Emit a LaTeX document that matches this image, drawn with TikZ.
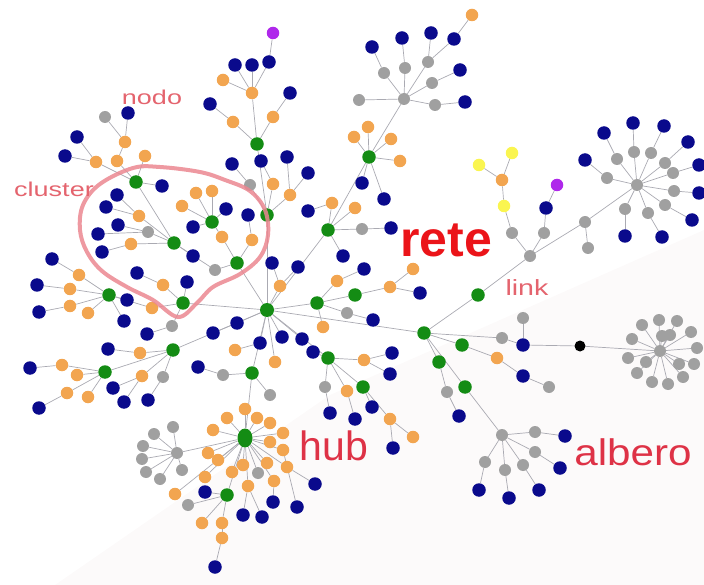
\documentclass[tikz,border=0pt]{standalone}
\usepackage{fontspec}
\setmainfont{Liberation Sans}
\usetikzlibrary{shapes.geometric}
\pgfdeclarelayer{back}
\pgfdeclarelayer{bg}
\pgfsetlayers{back,bg,main}
\definecolor{cb}{RGB}{10,10,140}
\definecolor{co}{RGB}{242,165,80}
\definecolor{cg}{RGB}{20,140,20}
\definecolor{cy}{RGB}{160,160,160}
\definecolor{cp}{RGB}{175,40,235}
\definecolor{cyl}{RGB}{250,245,80}
\definecolor{ce}{RGB}{170,170,178}
\definecolor{tpink}{RGB}{228,100,110}
\definecolor{tred}{RGB}{222,50,70}
\definecolor{tbold}{RGB}{235,20,25}
\definecolor{clu}{RGB}{235,135,145}
\definecolor{bgtri}{RGB}{252,250,250}
\tikzset{
 nd/.style={circle,inner sep=0pt,minimum size=12.5pt},
 bnode/.style={nd,fill=cb,minimum size=13.5pt},
 onode/.style={nd,fill=co},
 gnode/.style={nd,fill=cg,minimum size=13.5pt},
 ynode/.style={nd,fill=cy,minimum size=12pt},
 pnode/.style={nd,fill=cp},
 lnode/.style={nd,fill=cyl},
 knode/.style={nd,fill=black,minimum size=11pt},
 edge/.style={draw=ce,line width=0.7pt},
 lbl/.style={anchor=base,inner sep=0pt},
}
\def\Nd#1#2#3#4{\node[#2] (#1) at (#3,#4) {};}
\begin{document}
\begin{tikzpicture}[x=1pt,y=-1pt]
\useasboundingbox (0,0) rectangle (704,585);
\begin{pgfonlayer}{back}
\fill[bgtri] (55,585) -- (330,395) -- (704,230) -- (704,585) -- cycle;
\end{pgfonlayer}
% center
\Nd{c0}{gnode,minimum size=14pt}{267}{310}
% top tree
\Nd{gT}{gnode}{257}{144}
\Nd{a1}{onode}{233}{122}\Nd{a2}{bnode}{210}{104}
\Nd{a3}{onode}{273}{117}\Nd{a4}{bnode}{290}{93}
\Nd{a5}{onode}{252}{93}\Nd{a6}{bnode}{235}{65}\Nd{a7}{bnode}{252}{65}
\Nd{a8}{bnode}{269}{62}\Nd{a9}{onode}{223}{80}\Nd{a10}{pnode}{273}{33}
\Nd{gU}{gnode}{267}{215}
\Nd{a11}{bnode}{232}{164}\Nd{a12}{bnode}{261}{161}\Nd{a13}{bnode}{287}{157}
\Nd{a14}{bnode}{308}{173}\Nd{a15}{onode}{273}{184}\Nd{a16}{onode}{290}{195}
\Nd{a17}{ynode}{250}{185}
% upper right
\Nd{gR1}{gnode}{328}{230}
\Nd{b1}{onode}{332}{203}\Nd{b2}{bnode}{308}{211}\Nd{b3}{onode}{355}{208}
\Nd{b4}{ynode}{362}{229}\Nd{b5}{bnode}{391}{228}\Nd{b6}{bnode}{343}{256}
\Nd{gR2}{gnode}{369}{157}
\Nd{b7}{onode}{368}{127}\Nd{b8}{onode}{354}{137}\Nd{b9}{onode}{391}{139}
\Nd{b10}{onode}{400}{161}\Nd{b11}{bnode}{362}{183}\Nd{b12}{bnode}{384}{199}
\Nd{G1}{ynode}{404}{99}
\Nd{b13}{ynode}{384}{73}\Nd{b14}{bnode}{372}{47}\Nd{b15}{ynode}{405}{68}
\Nd{b16}{bnode}{402}{38}\Nd{b17}{ynode}{428}{62}\Nd{b18}{bnode}{431}{33}
\Nd{b19}{bnode}{454}{39}\Nd{b20}{onode}{472}{15}\Nd{b21}{ynode}{432}{83}
\Nd{b22}{bnode}{460}{70}\Nd{b23}{ynode}{435}{105}\Nd{b24}{bnode}{465}{102}
\Nd{b25}{ynode}{359}{100}
% right of center
\Nd{gR}{gnode}{317}{303}
\Nd{c1}{onode}{337}{281}\Nd{c2}{bnode}{364}{269}\Nd{c3}{bnode}{298}{267}
\Nd{gR3}{gnode}{355}{295}
\Nd{c4}{onode}{390}{287}\Nd{c5}{onode}{413}{269}\Nd{c6}{bnode}{420}{293}
\Nd{c7}{ynode}{347}{313}\Nd{c8}{bnode}{373}{320}\Nd{c9}{onode}{323}{327}
\Nd{c10}{onode}{280}{286}\Nd{c11}{bnode}{272}{263}
% lower right of center
\Nd{d0}{gnode}{328}{358}
\Nd{d1}{bnode}{302}{339}\Nd{d2}{bnode}{313}{352}\Nd{d3}{bnode}{282}{337}
\Nd{d4}{bnode}{260}{343}\Nd{d5}{bnode}{237}{323}\Nd{d6}{bnode}{213}{333}
\Nd{d7}{onode}{235}{350}\Nd{d8}{onode}{275}{362}
\Nd{d9}{onode}{364}{360}\Nd{d10}{bnode}{392}{353}\Nd{d11}{bnode}{390}{374}
\Nd{d12}{ynode}{325}{387}\Nd{d13}{bnode}{330}{413}\Nd{d14}{onode}{347}{391}
\Nd{d15}{bnode}{355}{419}\Nd{d16}{gnode}{363}{387}\Nd{d17}{bnode}{372}{407}
\Nd{d18}{onode}{390}{419}\Nd{d19}{onode}{413}{437}\Nd{d20}{bnode}{393}{448}
% far right
\Nd{e0}{gnode}{424}{333}
\Nd{e1}{gnode}{478}{295}
\Nd{J}{ynode}{530}{256}
\Nd{e2}{ynode}{512}{233}\Nd{e3}{lnode}{504}{206}\Nd{e4}{onode}{502}{180}
\Nd{e5}{lnode}{479}{165}\Nd{e6}{lnode}{512}{153}
\Nd{e7}{ynode}{544}{233}\Nd{e8}{bnode}{546}{208}\Nd{e9}{pnode}{557}{185}
\Nd{e10}{ynode}{585}{222}\Nd{e11}{ynode}{588}{248}
\Nd{S1}{ynode}{637}{185}
\foreach \x/\y [count=\i] in {607/178,617/159,634/152,651/153,665/163,673/173,674/191,665/205,648/213,625/209}
  \node[ynode] (si\i) at (\x,\y) {};
\foreach \x/\y [count=\i] in {585/160,604/133,633/123,664/126,688/142,699/165,699/193,692/220,662/237,625/236}
  \node[bnode] (so\i) at (\x,\y) {};
\Nd{e12}{ynode}{502}{338}\Nd{e13}{ynode}{523}{318}\Nd{e14}{bnode}{523}{345}
\Nd{K}{knode}{580}{346}
\Nd{S2}{ynode}{660}{351}
\foreach \x/\y [count=\i] in {632/339,642/325,659/320,677/321,691/332,697/348,694/364,683/377,668/384,652/382,637/373,628/358,670/335,679/364,646/362,662/336}
  \node[ynode] (sl\i) at (\x,\y) {};
\Nd{e15}{gnode}{462}{345}\Nd{e16}{onode}{497}{358}\Nd{e17}{bnode}{523}{376}
\Nd{e18}{ynode}{549}{387}
\Nd{e19}{gnode}{439}{362}\Nd{e20}{ynode}{447}{392}\Nd{e21}{bnode}{459}{416}
\Nd{e22}{gnode}{465}{387}
\Nd{A}{ynode}{502}{435}
\Nd{f1}{ynode}{535}{432}\Nd{f2}{bnode}{565}{436}
\Nd{f3}{ynode}{535}{452}\Nd{f4}{bnode}{560}{468}
\Nd{f5}{ynode}{485}{462}\Nd{f6}{bnode}{479}{490}
\Nd{f7}{ynode}{505}{470}\Nd{f8}{bnode}{509}{498}
\Nd{f9}{ynode}{523}{465}\Nd{f10}{bnode}{539}{490}
% hub below
\Nd{gD}{gnode}{252}{373}
\Nd{h1}{ynode}{223}{375}\Nd{h2}{bnode}{198}{367}\Nd{h3}{ynode}{270}{395}
\foreach \x/\y [count=\i] in {227/418,245/409,257/418,270/423,283/433,270/442,283/450,287/467,267/463,274/481,248/486,243/465,232/472,218/460,208/453,213/430,205/477,175/494}
  \node[onode] (r\i) at (\x,\y) {};
\Nd{r19}{ynode}{258}{473}
\Nd{B}{gnode,minimum width=15pt,minimum height=19pt,ellipse}{245}{438}
\Nd{q1}{bnode}{315}{484}\Nd{q2}{bnode}{273}{502}\Nd{q3}{bnode}{297}{507}
\Nd{q4}{bnode}{243}{515}\Nd{q5}{bnode}{262}{517}
\Nd{gB2}{gnode}{227}{495}
\Nd{q6}{bnode}{205}{492}\Nd{q7}{onode}{202}{523}\Nd{q8}{onode}{222}{523}
\Nd{q9}{onode}{222}{538}\Nd{q10}{bnode}{215}{567}\Nd{q11}{ynode}{188}{505}
\Nd{LS}{ynode}{177}{453}
\foreach \x/\y [count=\i] in {173/427,154/434,143/446,142/459,146/472,160/479,182/470}
  \node[ynode] (ls\i) at (\x,\y) {};
% left
\Nd{gL}{gnode}{183}{303}
\Nd{l1}{onode}{152}{308}\Nd{gL2}{gnode}{109}{295}
\Nd{l2}{bnode}{127}{300}\Nd{l3}{bnode}{124}{321}\Nd{l4}{onode}{79}{275}
\Nd{l5}{bnode}{52}{259}\Nd{l6}{onode}{70}{289}\Nd{l7}{bnode}{37}{285}
\Nd{l8}{onode}{70}{306}\Nd{l9}{bnode}{39}{312}\Nd{l10}{onode}{88}{313}
\Nd{l11}{bnode}{187}{282}\Nd{l12}{onode}{163}{285}\Nd{l13}{bnode}{137}{273}
\Nd{l14}{ynode}{172}{326}\Nd{l15}{bnode}{147}{334}
\Nd{gLL}{gnode}{173}{350}
\Nd{m1}{onode}{140}{353}\Nd{m2}{bnode}{108}{349}\Nd{m3}{gnode}{105}{372}
\Nd{m4}{onode}{62}{365}\Nd{m5}{bnode}{30}{368}\Nd{m6}{onode}{77}{375}
\Nd{m7}{onode}{67}{393}\Nd{m8}{bnode}{39}{408}\Nd{m9}{onode}{88}{397}
\Nd{m10}{bnode}{113}{388}\Nd{m11}{bnode}{124}{402}\Nd{m12}{onode}{142}{376}
\Nd{m13}{ynode}{163}{377}\Nd{m14}{bnode}{148}{400}
% cluster
\Nd{gC}{gnode}{237}{263}
\Nd{k1}{ynode}{215}{270}\Nd{k2}{bnode}{193}{256}\Nd{k3}{onode}{252}{240}
\Nd{k4}{onode}{222}{237}\Nd{gC2}{gnode}{212}{222}
\Nd{k5}{onode}{182}{206}\Nd{k6}{onode}{196}{193}\Nd{k7}{onode}{212}{191}
\Nd{k8}{bnode}{226}{209}\Nd{k9}{bnode}{193}{227}
\Nd{gC3}{gnode}{174}{243}
\Nd{k11}{ynode}{148}{232}\Nd{k12}{bnode}{118}{225}\Nd{k13}{bnode}{98}{234}
\Nd{k14}{onode}{131}{244}\Nd{k15}{bnode}{102}{252}\Nd{k16}{onode}{139}{216}
\Nd{k17}{bnode}{117}{195}\Nd{k18}{bnode}{106}{207}
\Nd{gC4}{gnode}{136}{182}
\Nd{k19}{onode}{117}{161}\Nd{k20}{onode}{125}{142}\Nd{k21}{ynode}{105}{117}
\Nd{k22}{bnode}{128}{113}\Nd{k23}{onode}{96}{162}\Nd{k24}{bnode}{77}{137}
\Nd{k25}{bnode}{65}{156}\Nd{k26}{onode}{145}{156}\Nd{k27}{bnode}{162}{186}
\Nd{k28}{bnode}{248}{215}
% edges
\begin{pgfonlayer}{bg}
\foreach \a/\b in {c0/gU,gU/gT,gT/a1,a1/a2,gT/a3,a3/a4,gT/a5,a5/a6,a5/a7,a5/a8,a5/a9,a8/a10,
 gU/a15,a15/a12,gU/a16,a16/a13,a16/a14,gU/a17,a17/a11,
 c0/gR1,gR1/b1,b1/b2,gR1/b3,gR1/b4,b4/b5,gR1/b6,gR1/gR2,gR2/b7,gR2/b8,gR2/b9,gR2/b10,gR2/b11,gR2/b12,
 gR2/G1,G1/b13,b13/b14,G1/b15,b15/b16,G1/b17,b17/b18,b17/b19,b19/b20,G1/b21,b21/b22,G1/b23,b23/b24,G1/b25,
 c0/gR,gR/c1,c1/c2,c0/c10,c10/c3,c10/c11,gR/gR3,gR3/c4,c4/c5,c4/c6,gR/c7,c7/c8,gR/c9,
 c0/d0,c0/d1,d0/d2,c0/d3,c0/d4,c0/d5,d5/d6,d4/d7,c0/d8,d0/d9,d9/d10,d9/d11,d0/d12,d12/d13,d0/d14,d14/d15,
 d0/d16,d16/d17,d16/d18,d18/d19,d18/d20,
 c0/e0,e0/e1,e1/J,J/e2,e2/e3,e3/e4,e4/e5,e4/e6,J/e7,e7/e8,e8/e9,J/e10,e10/e11,e10/S1,
 e0/e12,e12/e14,e14/e13,e14/K,K/S2,e0/e15,e15/e16,e16/e17,e17/e18,e0/e19,e19/e20,e20/e21,e0/e22,e22/A,
 A/f1,f1/f2,A/f3,f3/f4,A/f5,f5/f6,A/f7,f7/f8,A/f9,f9/f10,
 c0/gD,gD/h1,h1/h2,gD/h3,gD/B,B/LS,r8/q1,r10/q2,r7/q3,r11/q4,r11/q5,B/gB2,gB2/q6,gB2/q7,gB2/q8,q8/q9,q9/q10,gB2/q11,
 c0/gL,gL/l1,l1/gL2,gL2/l2,gL2/l3,gL2/l4,l4/l5,gL2/l6,l6/l7,gL2/l8,l8/l9,gL2/l10,gL/l11,gL/l12,l12/l13,gL/l14,l14/l15,
 c0/gLL,gLL/m1,m1/m2,gLL/m3,m3/m4,m4/m5,m3/m6,m3/m7,m7/m8,m3/m9,gLL/m12,m12/m10,m12/m11,gLL/m13,m13/m14,
 c0/gC,gC/k1,k1/gC3,gC3/k2,gC/k3,k3/k28,gC/k4,k4/gC2,gC2/k5,gC2/k6,gC2/k7,gC2/k8,gC2/k9,
 gC3/k11,k11/k12,k11/k13,gC3/k14,k14/k15,gC3/k16,k16/k17,k16/k18,gC3/gC4,gC4/k19,k19/k20,k20/k21,k20/k22,
 gC4/k23,k23/k24,k23/k25,gC4/k26,gC4/k27}
 \draw[edge] (\a) -- (\b);
\foreach \i in {1,...,10} {\draw[edge] (S1) -- (si\i); \draw[edge] (si\i) -- (so\i);}
\foreach \i in {1,...,16} \draw[edge] (S2) -- (sl\i);
\foreach \i in {1,...,19} \draw[edge] (B) -- (r\i);
\foreach \i in {1,...,7} \draw[edge] (LS) -- (ls\i);
\end{pgfonlayer}
% cluster outline
\draw[clu,line width=4pt,opacity=0.85] plot[smooth cycle,tension=0.6] coordinates {(80,230) (87,252) (102,271) (127,287) (153,300) (178,317) (197,303) (213,287) (240,274) (260,257) (268,235) (265,210) (250,191) (225,180) (200,172) (160,167) (133,168) (100,184) (83,205)};
% labels
\node[lbl,text=tpink,font=\fontsize{20}{20}\selectfont] (tnodo) at (152,105) {\scalebox{1.35}[1]{nodo}};
\node[lbl,text=tpink,font=\fontsize{20}{20}\selectfont] (tcluster) at (54,197) {\scalebox{1.35}[1]{cluster}};
\node[lbl,text=tbold,font=\bfseries\fontsize{50}{50}\selectfont] (trete) at (446,257) {rete};
\node[lbl,text=tpink,font=\fontsize{22}{22}\selectfont] (tlink) at (527,296) {\scalebox{1.3}[1]{link}};
\node[lbl,text=tred,font=\fontsize{41}{41}\selectfont] (thub) at (334,460) {hub};
\node[lbl,text=tred,font=\fontsize{37}{37}\selectfont] (talbero) at (633,465) {\scalebox{1.14}[1]{albero}};
\end{tikzpicture}
\end{document}
